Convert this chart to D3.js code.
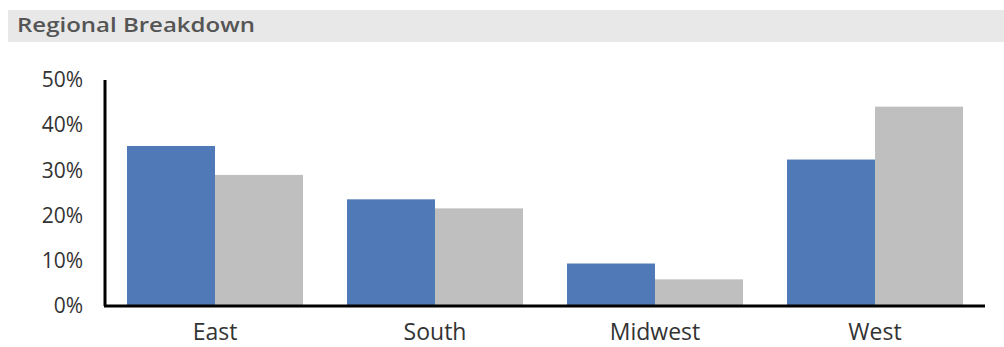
<!DOCTYPE html>
<html><head><meta charset="utf-8">
<script src="https://cdn.jsdelivr.net/npm/d3@7"></script>
<style>body{margin:0;background:#fff;}svg{display:block;}</style>
</head><body>
<svg id="chart" width="1004" height="347"></svg>
<script>
const title = "Regional Breakdown";
const categories = ["East", "South", "Midwest", "West"];
const seriesA = [35.4, 23.6, 9.4, 32.4];
const seriesB = [29.0, 21.6, 5.9, 44.1];
const yTicks = [0, 10, 20, 30, 40, 50];

const font = "'Open Sans', sans-serif";
const svg = d3.select("#chart");
svg.append("rect").attr("x", 8).attr("y", 10).attr("width", 996).attr("height", 32).attr("fill", "#e8e8e8");
svg.append("text").attr("x", 17).attr("y", 32).attr("font-family", font).attr("font-size", 19.5)
  .attr("font-weight", 600).attr("fill", "#555").attr("textLength", 238).attr("lengthAdjust", "spacingAndGlyphs").text(title);

const x = d3.scaleBand().domain(categories).range([105, 985]).paddingInner(0.2).paddingOuter(0.1);
const xs = d3.scaleBand().domain(["A", "B"]).range([0, x.bandwidth()]);
const y = d3.scaleLinear().domain([0, 50]).range([306, 80]);

const data = categories.map((c, i) => ({c, A: seriesA[i], B: seriesB[i]}));
const colors = {A: "#4f7ab7", B: "#bfbfbf"};
const g = svg.append("g");
data.forEach(d => {
  ["A", "B"].forEach(k => {
    g.append("rect").attr("x", x(d.c) + xs(k)).attr("y", y(d[k]))
      .attr("width", xs.bandwidth()).attr("height", y(0) - y(d[k])).attr("fill", colors[k]);
  });
});

const yAxis = svg.append("g").attr("transform", "translate(105,0)")
  .call(d3.axisLeft(y).tickValues(yTicks).tickFormat(d => d + "%").tickSize(0).tickPadding(22));
yAxis.select(".domain").attr("stroke", "#000").attr("stroke-width", 3).attr("d", "M0," + y(50) + "V" + y(0));
yAxis.selectAll("text").attr("font-family", font).attr("font-size", 21).attr("fill", "#333");

const xAxis = svg.append("g").attr("transform", "translate(0," + y(0) + ")")
  .call(d3.axisBottom(x).tickSize(0).tickPadding(18));
xAxis.select(".domain").attr("stroke", "#000").attr("stroke-width", 3).attr("d", "M104,0H985");
xAxis.selectAll("text").attr("font-family", font).attr("font-size", 23).attr("fill", "#333");
</script>
</body></html>
